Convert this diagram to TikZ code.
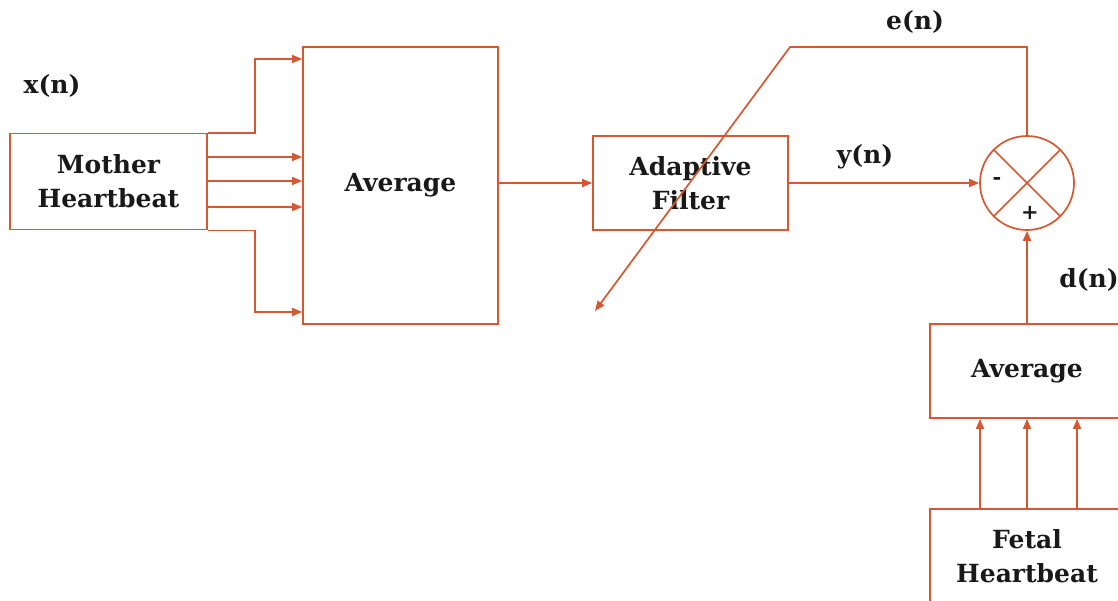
\documentclass[tikz,border=0pt]{standalone}
\usepackage{fontspec}
\setmainfont{DejaVu Serif}
\usetikzlibrary{arrows.meta}
\definecolor{ln}{RGB}{214,88,50}
\definecolor{tx}{RGB}{25,25,25}
\begin{document}
\begin{tikzpicture}[x=1pt,y=-1pt,
  box/.style={draw=ln, line width=1.7pt, align=center, inner sep=0pt, text=tx,
    font=\bfseries\fontsize{25}{34}\selectfont},
  lbl/.style={text=tx, inner sep=0pt, font=\bfseries\fontsize{25}{28}\selectfont},
  sgn/.style={text=tx, inner sep=0pt, font=\bfseries\fontsize{21}{21}\selectfont},
  wire/.style={draw=ln, line width=1.7pt},
  arr/.style={wire, -{Triangle[length=10pt,width=8pt]}}]
\useasboundingbox (0,0) rectangle (1118,600);
\clip (0,0) rectangle (1118,600);
\fill[white] (0,0) rectangle (1118,600);
% boxes
\node[box, minimum width=197pt, minimum height=96pt] (mh) at (108.5,181.5) {Mother\\Heartbeat};
\node[box, minimum width=195pt, minimum height=277pt] (avg1) at (400.5,185.5) {Average};
\node[box, minimum width=195pt, minimum height=94pt] (af) at (690.5,183) {Adaptive\\Filter};
\node[draw=ln, line width=1.7pt, circle, minimum size=94pt, inner sep=0pt] (sum) at (1027,183) {};
\draw[wire] (sum.north west) -- (sum.south east);
\draw[wire] (sum.north east) -- (sum.south west);
\node[sgn] (minus) at (997,181) {-};
\node[sgn] (plus) at (1030,213) {+};
\node[box, minimum width=194pt, minimum height=94pt] (avg2) at (1027,371) {Average};
\node[box, minimum width=194pt, minimum height=94pt] (fh) at (1027,556) {Fetal\\Heartbeat};
% labels
\node[lbl] (xn) at (52,86) {x(n)};
\node[lbl] (yn) at (865,157) {y(n)};
\node[lbl] (en) at (915,22) {e(n)};
\node[lbl] (dn) at (1089,280) {d(n)};
% coordinates
\coordinate (t1) at (255,59);
\coordinate (b1) at (255,312);
\coordinate (m1) at (0,157);
\coordinate (m2) at (0,181);
\coordinate (m3) at (0,207);
\coordinate (ecorner) at (790,47);
\coordinate (eend) at (595,311);
% connectors
\draw[arr] (mh.north east) -| (t1) -- (avg1.west |- t1);
\draw[arr] (mh.south east) -| (b1) -- (avg1.west |- b1);
\draw[arr] (mh.east |- m1) -- (avg1.west |- m1);
\draw[arr] (mh.east |- m2) -- (avg1.west |- m2);
\draw[arr] (mh.east |- m3) -- (avg1.west |- m3);
\draw[arr] (avg1.east |- af.west) -- (af.west);
\draw[arr] (af.east) -- (sum.west);
\draw[arr] (sum.north) -- (sum.north |- ecorner) -- (ecorner) -- (eend);
\draw[arr] (avg2.north) -- (sum.south);
\draw[arr] ([xshift=-47pt]fh.north) -- ([xshift=-47pt]avg2.south);
\draw[arr] (fh.north) -- (avg2.south);
\draw[arr] ([xshift=50pt]fh.north) -- ([xshift=50pt]avg2.south);
\end{tikzpicture}
\end{document}
